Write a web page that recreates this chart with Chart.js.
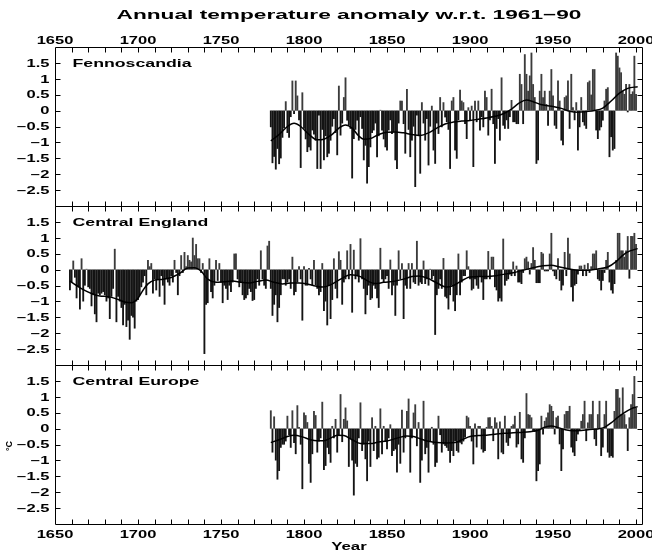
<!DOCTYPE html>
<html>
<head>
<meta charset="utf-8">
<script src="https://cdn.jsdelivr.net/npm/chart.js@4.4.1/dist/chart.umd.min.js"></script>
<style>
  html, body { margin: 0; padding: 0; background: #ffffff; }
  #wrap { position: relative; width: 652px; height: 550px; overflow: hidden; background: #ffffff; }
  #wrap canvas { position: absolute; left: 0; top: 0; }
</style>
</head>
<body>
<div id="wrap">
  <canvas id="panelFenno" width="652" height="550"></canvas>
  <canvas id="panelEngland" width="652" height="550"></canvas>
  <canvas id="panelEurope" width="652" height="550"></canvas>
</div>
<script>
// ---- Annual anomalies (degC, w.r.t. 1961-90) ----
const fennoStart = 1780;
const fennoValues = [
  -0.52, -1.65, -1.45, -1.85, -1.20, -1.68, -1.50, -0.85, -0.55, 0.29,
  -0.70, -0.85, -0.20, 0.94, -0.10, 0.94, 0.47, -0.30, -1.80, 0.57,
  -0.57, -0.90, -1.30, -1.15, -1.25, -0.62, -0.75, -0.94, -1.83, -0.15,
  -1.83, -0.60, -1.56, -0.80, -1.46, -1.35, -0.94, -0.50, -0.26, -0.70,
  -1.40, 0.78, -0.78, -0.40, 0.42, 1.04, -0.31, -0.45, -0.57, -2.13,
  -0.89, -0.60, -0.31, -0.94, -0.20, -0.57, -1.56, -1.10, -2.29, -1.77,
  -1.15, -0.70, -0.62, -0.40, -1.46, -0.80, 0.02, -0.62, -0.90, -1.15,
  -1.25, -0.62, -0.30, -0.73, -0.68, -1.56, -1.83, -0.40, 0.31, 0.31,
  -0.42, -1.35, 0.68, -0.60, -1.46, -0.94, -0.50, -2.40, -0.15, -0.80,
  -1.98, 0.26, -0.40, -0.94, -0.26, -1.72, -0.50, 0.15, -1.25, -1.67,
  -0.40, -0.73, 0.42, -0.52, 0.26, -0.21, -0.36, -0.60, -1.83, 0.31,
  0.42, -1.25, -1.51, -0.30, 0.65, 0.31, 0.26, -0.42, -0.89, 0.10,
  -0.30, 0.15, -1.77, 0.31, -0.36, 0.31, -0.62, -0.20, -0.52, 0.62,
  0.42, -0.78, -0.30, 0.68, -0.42, -1.67, -0.57, -0.26, -0.94, 1.04,
  -0.47, -0.57, -0.30, -0.57, -0.20, 0.33, -0.36, -0.36, -0.42, -0.42,
  1.15, 0.83, -0.42, 1.77, 1.15, 0.62, 1.10, 1.82, 0.83, 0.42,
  -1.67, -1.56, 0.62, 1.15, 0.42, 0.62, 0.20, -0.47, 0.62, 1.30,
  0.47, -0.47, -0.57, 0.94, 0.31, -0.94, -1.09, 0.42, 0.47, 0.94,
  -0.57, 1.15, 0.10, -0.30, 0.26, -1.25, -0.52, 0.42, -0.36, -0.47,
  -0.57, 0.89, 0.94, 0.50, 1.30, 1.30, -0.62, -0.89, -0.62, -0.52,
  -0.31, 0.31, 0.68, 0.73, -1.46, -0.83, -1.25, -1.20, 1.82, 1.72,
  1.35, 1.20, 0.62, 0.52, 0.83, -0.05, 0.83, 0.52, 0.60, 1.72, 0.52
];

const englandStart = 1659;
const englandValues = [
  -0.65,
  -0.40, 0.28, -0.25, -0.90, -0.55, -1.25, 0.35, -1.00, -0.50, 0.02,
  -0.55, -0.60, -1.15, -0.80, -1.40, -1.65, -0.75, -0.80, -0.75, -0.70,
  -0.80, -1.00, -0.90, -1.55, -0.85, -0.60, 0.65, -1.65, -0.85, -1.00,
  -1.20, -1.75, -1.10, -1.80, -1.60, -2.20, -1.45, -1.50, -1.85, -1.00,
  -0.95, -0.80, -0.55, -0.40, -0.20, -0.80, 0.30, 0.10, 0.20, -0.75,
  -0.30, -0.65, -0.30, -0.85, -0.20, -0.50, -1.10, -0.30, -0.40, -0.50,
  -0.20, -0.40, 0.30, -0.10, -0.80, -0.20, 0.45, -0.10, 0.55, 0.10,
  0.45, 0.30, 0.25, 1.00, 0.45, 0.80, 0.35, 0.35, -0.10, 0.20,
  -2.65, -1.10, -1.05, 0.35, -0.70, -0.90, -0.50, 0.30, -0.35, 0.20,
  -0.40, -1.05, -0.50, -0.60, -0.95, -0.50, -0.70, -0.40, 0.50, 0.50,
  -0.30, -0.55, -0.40, -0.80, -0.95, -0.90, -0.80, -0.60, -0.70, -0.98,
  -0.95, -0.60, -0.30, -0.50, 0.60, -0.30, -0.50, -0.60, 0.75, 0.90,
  -0.60, -1.45, -1.10, -0.80, -1.65, -1.20, -0.80, -0.30, -0.30, -0.50,
  -0.40, -0.30, -0.60, 0.40, -0.80, -0.70, -0.40, 0.10, -0.30, -1.60,
  0.10, -0.50, -0.50, 0.05, -0.30, -0.50, 0.30, -0.50, -0.60, -0.80,
  -0.70, 0.20, -1.30, -1.00, -1.75, -0.50, -1.55, -0.95, 0.35, -0.60,
  -0.90, 0.57, 0.30, -1.10, -0.40, -0.30, 0.60, -0.30, 0.80, -1.35,
  0.62, -0.30, -0.20, -0.40, 0.98, -0.30, -0.60, -1.40, -0.80, -0.50,
  -0.95, -0.90, -0.50, -0.60, -0.90, -1.20, 0.68, -0.30, -0.40, -0.30,
  -0.20, -0.60, 0.31, -0.80, -0.50, -1.45, -0.50, 0.60, -0.30, 0.20,
  -1.55, -0.50, -0.60, 0.20, -0.60, 0.20, -0.40, -0.45, 0.90, -0.50,
  -0.40, -0.45, 0.28, -0.45, -0.30, -0.50, 0.02, -0.30, -0.20, -2.05,
  -0.80, -0.60, -0.30, -0.60, 0.36, -0.85, -0.90, -1.25, -0.80, -0.50,
  -1.00, -1.30, -0.80, 0.50, -0.80, -0.40, -0.20, -0.20, 0.60, 0.10,
  -0.30, -0.65, -0.60, -0.30, -0.50, -0.60, -0.20, -0.40, -0.95, -0.30,
  -0.30, 0.58, -0.30, 0.40, 0.40, -0.55, -0.65, -1.00, -0.90, -1.00,
  0.97, -0.50, -0.35, -0.30, -0.15, -0.20, 0.25, -0.20, 0.12, -0.40,
  -0.40, -0.45, -0.10, 0.35, 0.40, 0.25, -0.15, 0.20, 0.70, 0.30,
  -0.42, -0.42, -0.42, 0.55, 0.50, -0.05, -0.05, -0.05, 0.50, 1.15,
  -0.05, -0.20, -0.30, 0.35, -0.35, -0.65, -0.50, 0.55, -0.20, 1.00,
  0.50, -0.55, -1.00, -0.50, -0.45, -0.15, 0.12, 0.12, -0.20, 0.15,
  -0.20, 0.20, -0.10, 0.10, 0.50, 0.50, 0.60, -0.30, -0.35, -0.65,
  -0.35, -0.10, 0.30, 0.55, -0.40, -0.65, -0.75, -0.45, 0.30, 1.15,
  1.15, 0.60, 0.60, 0.40, 0.60, 1.05, -0.28, 1.05, 1.05, 1.15, 0.80
];

const europeStart = 1780;
const europeValues = [
  0.57, -0.75, 0.38, -1.00, -1.60, -1.33, -0.60, -0.50, -0.50, -0.40,
  0.40, -0.20, -0.60, 0.57, -0.45, -0.80, 0.73, 0.05, -0.50, -1.90,
  0.50, 0.42, 0.20, -1.10, -1.70, -0.80, 0.55, 0.42, -0.75, -0.40,
  -0.30, 0.84, -1.30, -1.17, -0.60, -0.80, -1.07, 0.08, -0.30, 0.30,
  -0.75, -0.20, 1.08, -0.42, 0.30, 0.66, 0.25, -1.20, -0.33, -1.00,
  -2.10, -1.10, -1.20, -0.30, 0.82, -0.70, -0.50, -0.96, -1.65, -0.40,
  -1.20, 0.35, -0.70, 0.08, -0.96, -0.91, 0.63, -0.80, 0.08, -0.40,
  -0.65, -0.30, 0.13, -0.86, -0.70, -0.65, -1.38, -0.50, -1.10, 0.59,
  -0.75, -0.30, 0.55, 0.94, -1.38, -0.30, 0.50, 0.76, -0.55, 0.20,
  -1.70, -1.00, 0.87, -0.80, -0.60, -1.38, -0.40, 0.05, -0.50, -1.20,
  -1.07, 0.40, -0.20, -0.75, -0.49, -0.54, -0.60, -0.70, -1.07, -0.70,
  -0.86, -0.39, -0.70, -0.75, -0.44, -0.49, -0.40, -0.28, 0.40, 0.35,
  0.08, -0.40, -1.12, 0.16, -0.59, 0.08, 0.08, -0.65, -0.75, -0.70,
  0.05, 0.35, 0.35, 0.08, -0.39, 0.35, 0.19, -0.96, 0.22, -0.75,
  -0.80, 0.40, -0.44, -0.54, -0.30, 0.08, 0.13, 0.40, -0.59, -0.49,
  0.52, -0.96, -1.07, -0.30, 1.11, 0.45, 0.43, 0.35, -0.07, -0.10,
  -1.65, -1.33, -1.12, 0.40, -0.18, 0.24, 0.35, 0.50, 0.76, 0.71,
  0.55, -0.18, 0.35, 0.40, -0.49, -1.33, -0.65, 0.45, 0.55, 0.55,
  0.71, -0.59, -0.75, -0.86, -0.39, -0.18, -0.07, 0.24, 0.45, 0.87,
  -0.39, 0.19, 0.45, 0.45, 0.87, -0.33, -0.54, 0.45, 0.87, -0.86,
  -0.59, 0.45, 0.87, -0.75, -0.91, -0.86, -0.91, 0.55, 1.24, 1.24,
  0.97, 0.45, 1.29, 0.45, 0.13, -0.70, 0.35, 0.76, 1.08, 1.65, 0.66
];

// ---- Smoothed (low-pass) curves ----
const fennoSmoothYears = [1780, 1785, 1790, 1794, 1798, 1803, 1808, 1812, 1817, 1821, 1825, 1829, 1833, 1836, 1840, 1845, 1850, 1855, 1860, 1865, 1870, 1875, 1880, 1885, 1890, 1895, 1900, 1905, 1910, 1915, 1920, 1925, 1930, 1934, 1938, 1942, 1946, 1950, 1955, 1960, 1965, 1970, 1975, 1980, 1985, 1990, 1995, 2001];
const fennoSmoothValues = [-0.95, -0.75, -0.5, -0.4, -0.5, -0.75, -0.92, -0.9, -0.75, -0.55, -0.45, -0.55, -0.8, -0.9, -0.88, -0.75, -0.68, -0.67, -0.7, -0.75, -0.78, -0.7, -0.55, -0.42, -0.36, -0.33, -0.31, -0.27, -0.23, -0.18, -0.1, 0.05, 0.25, 0.33, 0.28, 0.2, 0.16, 0.13, 0.07, -0.02, -0.05, -0.03, 0.0, 0.08, 0.3, 0.55, 0.7, 0.75];

const englandSmoothYears = [1659, 1663, 1667, 1672, 1677, 1682, 1687, 1692, 1696, 1700, 1703, 1706, 1710, 1715, 1720, 1725, 1730, 1734, 1738, 1742, 1747, 1752, 1757, 1762, 1767, 1772, 1777, 1782, 1787, 1792, 1797, 1802, 1807, 1811, 1816, 1822, 1828, 1834, 1839, 1843, 1848, 1854, 1860, 1865, 1869, 1874, 1880, 1886, 1890, 1894, 1900, 1907, 1914, 1920, 1926, 1932, 1938, 1944, 1949, 1954, 1960, 1965, 1971, 1977, 1983, 1988, 1992, 1996, 2001];
const englandSmoothValues = [-0.36, -0.5, -0.63, -0.75, -0.83, -0.85, -0.92, -1.02, -1.04, -0.9, -0.65, -0.45, -0.33, -0.3, -0.25, -0.12, 0.05, 0.06, -0.05, -0.3, -0.4, -0.38, -0.36, -0.4, -0.42, -0.37, -0.33, -0.4, -0.45, -0.42, -0.42, -0.45, -0.52, -0.55, -0.48, -0.3, -0.16, -0.22, -0.38, -0.44, -0.4, -0.37, -0.3, -0.22, -0.2, -0.26, -0.42, -0.55, -0.5, -0.38, -0.23, -0.22, -0.2, -0.15, -0.1, -0.02, 0.06, 0.12, 0.14, 0.08, 0.02, -0.02, -0.02, 0.02, 0.08, 0.25, 0.45, 0.58, 0.66];

const europeSmoothYears = [1780, 1785, 1790, 1794, 1799, 1804, 1808, 1812, 1816, 1820, 1824, 1829, 1834, 1840, 1845, 1850, 1856, 1862, 1866, 1870, 1875, 1880, 1886, 1891, 1896, 1900, 1905, 1911, 1916, 1921, 1926, 1931, 1936, 1941, 1945, 1949, 1953, 1957, 1962, 1967, 1972, 1977, 1981, 1985, 1989, 1993, 1997, 2001];
const europeSmoothValues = [-0.44, -0.35, -0.25, -0.21, -0.26, -0.35, -0.38, -0.38, -0.3, -0.21, -0.22, -0.35, -0.47, -0.47, -0.42, -0.39, -0.3, -0.23, -0.25, -0.32, -0.4, -0.44, -0.45, -0.44, -0.33, -0.25, -0.22, -0.2, -0.17, -0.15, -0.13, -0.12, -0.1, -0.05, 0.04, 0.08, 0.03, -0.03, -0.07, -0.06, -0.03, -0.01, 0.04, 0.18, 0.35, 0.5, 0.62, 0.69];

// ---- Axes ----
const xMin = 1650;
const xMax = 2004.2;
const xTickLabels = [1650, 1700, 1750, 1800, 1850, 1900, 1950, 2000];
const xTickMarks = [1660, 1670, 1680, 1690, 1700, 1710, 1720, 1730, 1740, 1750, 1760, 1770, 1780, 1790, 1800, 1810, 1820, 1830, 1840, 1850, 1860, 1870, 1880, 1890, 1900, 1910, 1920, 1930, 1940, 1950, 1960, 1970, 1980, 1990, 2000];
const yMin = -3;
const yMax = 2;
const yTickValues = [-2.5, -2, -1.5, -1, -0.5, 0, 0.5, 1, 1.5];
const yTickLabels = ['\u22122.5', '\u22122', '\u22121.5', '\u22121', '\u22120.5', '0', '0.5', '1', '1.5'];

const titleText = 'Annual temperature anomaly w.r.t. 1961\u221290';
const xTitleText = 'Year';
const yUnitText = '\u00B0C';

const NEG_COLOR = '#141414';
const POS_COLOR = '#3c3c3c';
const FONT_FAMILY = '"Liberation Sans", Arial, Helvetica, sans-serif';

// Draws bold text that is widened horizontally by factor sx.
function wideText(ctx, text, x, y, size, sx, align, rotate) {
  ctx.save();
  ctx.font = 'bold ' + size + 'px ' + FONT_FAMILY;
  ctx.fillStyle = '#000000';
  ctx.textAlign = align || 'center';
  ctx.textBaseline = 'alphabetic';
  ctx.translate(x, y);
  if (rotate) ctx.rotate(rotate);
  ctx.scale(sx, 1);
  ctx.fillText(text, 0, 0);
  ctx.restore();
}

// Frame, inward tick marks and labels of one panel.
const panelDecor = {
  id: 'panelDecor',
  afterDraw(chart, args, opts) {
    const ctx = chart.ctx;
    const a = chart.chartArea;
    const xs = chart.scales.x;
    const ys = chart.scales.y;
    const L = Math.round(a.left) + 0.5;
    const R = Math.round(a.right) - 0.5;
    const T = Math.round(a.top) + 0.5;
    const B = Math.round(a.bottom) + 0.5;
    const tick = 5;

    ctx.save();
    ctx.strokeStyle = '#000000';
    ctx.lineWidth = 1;
    ctx.beginPath();
    ctx.rect(L, T, R - L, B - T);
    xTickMarks.forEach(v => {
      const px = Math.round(xs.getPixelForValue(v)) + 0.5;
      if (px <= L + 1 || px >= R - 1) return;
      ctx.moveTo(px, T); ctx.lineTo(px, T + tick);
      ctx.moveTo(px, B); ctx.lineTo(px, B - tick);
    });
    yTickValues.forEach(v => {
      const py = Math.round(ys.getPixelForValue(v)) + 0.5;
      ctx.moveTo(L, py); ctx.lineTo(L + tick, py);
      ctx.moveTo(R, py); ctx.lineTo(R - tick, py);
    });
    ctx.stroke();
    ctx.restore();

    // y tick labels
    yTickValues.forEach((v, i) => {
      const py = ys.getPixelForValue(v);
      wideText(ctx, yTickLabels[i], 49.5, py + 3.7, 10.2, 1.62, 'right');
    });

    // region name
    wideText(ctx, opts.name, 72.5, a.top + 19.8, 11.5, 1.54, 'left');

    if (opts.top) {
      wideText(ctx, titleText, (a.left + a.right) / 2, 19, 13.2, 1.72, 'center');
      xTickLabels.forEach(v => {
        wideText(ctx, String(v), xs.getPixelForValue(v), 43.5, 10.2, 1.62, 'center');
      });
    }
    if (opts.bottom) {
      xTickLabels.forEach(v => {
        wideText(ctx, String(v), xs.getPixelForValue(v), a.bottom + 14, 10.2, 1.62, 'center');
      });
      wideText(ctx, xTitleText, (a.left + a.right) / 2, 549.5, 10.5, 1.6, 'center');
      wideText(ctx, yUnitText, 12, 446, 9, 1.0, 'center', -Math.PI / 2);
    }
  }
};

function toPoints(start, values) {
  return values.map((v, i) => ({ x: start + i, y: v }));
}
function toCurve(years, values) {
  return years.map((yr, i) => ({ x: yr, y: values[i] }));
}

function makePanel(canvasId, name, start, values, sYears, sValues, top, bottom, extra) {
  const ctx = document.getElementById(canvasId).getContext('2d');
  return new Chart(ctx, {
    data: {
      datasets: [
        {
          type: 'line',
          label: name + ' (smoothed)',
          data: toCurve(sYears, sValues),
          borderColor: '#000000',
          borderWidth: 1.5,
          pointRadius: 0,
          cubicInterpolationMode: 'monotone',
          fill: false,
          order: 0
        },
        {
          type: 'bar',
          label: name,
          data: toPoints(start, values),
          backgroundColor: c => (c.raw && c.raw.y < 0 ? NEG_COLOR : POS_COLOR),
          borderWidth: 0,
          inflateAmount: 0.1,
          barPercentage: 1.0,
          categoryPercentage: 1.0,
          order: 1
        }
      ]
    },
    options: {
      responsive: false,
      animation: false,
      events: [],
      layout: { padding: { left: 55, right: 9, top: top, bottom: 550 - bottom } },
      scales: {
        x: { type: 'linear', min: xMin, max: xMax, offset: false, display: false },
        y: { type: 'linear', min: yMin, max: yMax, display: false }
      },
      plugins: {
        legend: { display: false },
        tooltip: { enabled: false },
        title: { display: false },
        panelDecor: Object.assign({ name: name }, extra)
      }
    },
    plugins: [panelDecor]
  });
}

makePanel('panelFenno', 'Fennoscandia', fennoStart, fennoValues,
  fennoSmoothYears, fennoSmoothValues, 47, 206, { top: true });
makePanel('panelEngland', 'Central England', englandStart, englandValues,
  englandSmoothYears, englandSmoothValues, 206, 365, {});
makePanel('panelEurope', 'Central Europe', europeStart, europeValues,
  europeSmoothYears, europeSmoothValues, 365, 524, { bottom: true });
</script>
</body>
</html>
